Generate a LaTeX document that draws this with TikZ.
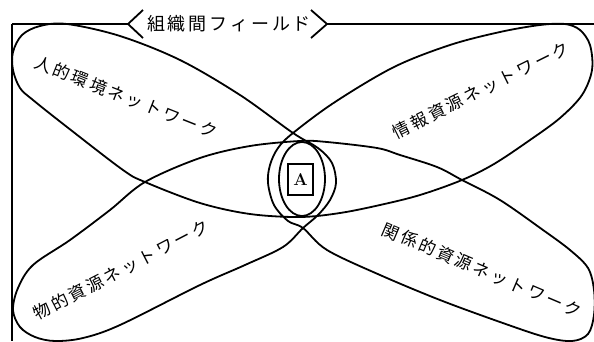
\documentclass[tikz,border=0pt]{standalone}
\usepackage{fontspec}
\newfontfamily\jp{Noto Sans CJK JP}
\newfontfamily\jpsp[LetterSpace=16]{Noto Sans CJK JP}
\tikzset{
  petal/.style={line width=1.8pt, line join=round},
  frameline/.style={line width=1.2pt},
  leftline/.style={line width=2.6pt},
  lbl/.style={font=\jpsp\fontsize{17}{17}\selectfont, inner sep=0pt},
  ttl/.style={font=\jpsp\fontsize{18}{18}\selectfont, inner sep=0pt},
}
\begin{document}
\begin{tikzpicture}[x=1pt,y=-1pt]
\useasboundingbox (0,0) rectangle (594,341);
% frame
\coordinate (fl) at (128,24);
\coordinate (fr) at (327,24);
\coordinate (ftl) at (12,24);
\coordinate (fbl) at (12,341);
\coordinate (fre) at (594,24);
\draw[leftline] (ftl) -- (fbl);
\draw[frameline] (ftl) -- (fl);
\draw[frameline] (fr) -- (fre);
\draw[line width=1.8pt, line join=miter] (143,10) -- (fl) -- (143,38);
\draw[line width=1.8pt, line join=miter] (311,10) -- (fr) -- (311,38);
\node[ttl] (title) at (229,24) {組織間フィールド};
% petals as one closed curve
\draw[petal] plot[smooth cycle, tension=0.55] coordinates {
 (67,24) (40,26) (22,35) (13,52) (13,70) (20,88) (33,100) (67,127) (123,170) (145,182)
 (200,203) (250,214) (300,217) (340,213) (380,205) (420,195) (462,180) (494,164)
 (530,140) (560,118) (582,95) (592,70) (590,45) (580,30) (565,24) (540,25) (500,32)
 (450,45) (394,67) (335,102) (293,133) (278,148) (270,165) (268,183) (274,205)
 (288,221) (303,228) (327,250) (380,275) (440,300) (500,322) (545,337) (572,341)
 (588,334) (594,315) (594,290) (588,268) (570,250) (543,230) (500,200) (462,180)
 (437,167) (400,155) (377,148) (327,142) (300,141) (250,146) (200,158) (145,182)
 (110,210) (70,240) (33,265) (18,288) (13,310) (20,327) (35,337) (55,341) (83,338)
 (120,325) (200,285) (245,265) (283,247) (303,228) (318,215) (330,200) (336,183)
 (332,163) (318,148) (293,133) (240,95) (180,60) (120,36)
};
% inner ellipse
\draw[petal] (302,179) ellipse [x radius=23, y radius=37];
% A box
\node[draw, line width=1.2pt, minimum width=25pt, minimum height=31pt, inner sep=0pt,
      font=\fontsize{17}{17}\selectfont\bfseries] (A) at (300.5,179.5) {A};
% labels
\node[lbl, rotate=-21.6] (tl) at (126,97) {人的環境ネットワーク};
\node[lbl, rotate=26.4] (tr) at (481,90) {情報資源ネットワーク};
\node[lbl, rotate=27.4] (bl) at (121,270) {物的資源ネットワーク};
\node[lbl, rotate=-23] (br) at (482,270) {関係的資源ネットワーク};
\end{tikzpicture}
\end{document}
